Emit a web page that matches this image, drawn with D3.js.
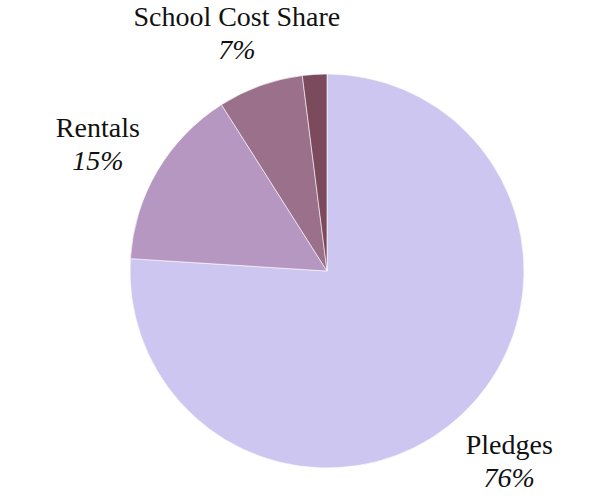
<!DOCTYPE html>
<html>
<head>
<meta charset="utf-8">
<script src="https://cdn.jsdelivr.net/npm/d3@7"></script>
<style>
  html, body { margin: 0; padding: 0; background: #fff; }
  text { font-family: "Liberation Serif", "DejaVu Serif", serif; fill: #111; }
</style>
</head>
<body>
<script>
const categories = ['Pledges', 'Rentals', 'School Cost Share', 'Other'],
      shares = [76, 15, 7, 2],
      colors = ['#cdc6f1', '#b697c1', '#9b708b', '#7b4a5c'];

const width = 600,
      height = 500,
      cx = 327,
      cy = 271,
      radius = 197;

const svg = d3.select('body')
              .append('svg')
              .attr('width', width)
              .attr('height', height);

const pie = d3.pie()
              .sort(null)
              .value(function(d) { return d.value; });

const data = categories.map(function(c, i) {
  return { name: c, value: shares[i], color: colors[i] };
});

const arcs = pie(data);

const arc = d3.arc()
              .innerRadius(0)
              .outerRadius(radius);

// labels sit on a ring outside the pie
const labelArc = d3.arc()
                   .innerRadius(radius + 59)
                   .outerRadius(radius + 59);

const g = svg.append('g')
             .attr('transform', `translate(${cx},${cy})`);

g.selectAll('path')
 .data(arcs)
 .enter()
 .append('path')
 .attr('d', arc)
 .attr('fill', function(d) { return d.data.color; })
 .attr('stroke', '#fff')
 .attr('stroke-width', 0.6);

const labels = g.selectAll('g.label')
                .data(arcs.filter(function(d) { return d.data.value >= 5; }))
                .enter()
                .append('g')
                .attr('class', 'label')
                .attr('transform', function(d) {
                  const p = labelArc.centroid(d);
                  // wide labels need a little more room sideways
                  return `translate(${p[0] * 1.04},${p[1]})`;
                });

labels.append('text')
      .attr('text-anchor', 'middle')
      .attr('y', -4)
      .style('font-size', '28px')
      .text(function(d) { return d.data.name; });

labels.append('text')
      .attr('text-anchor', 'middle')
      .attr('y', 29)
      .style('font-size', '28px')
      .style('font-style', 'italic')
      .text(function(d) { return d.data.value + '%'; });
</script>
</body>
</html>
